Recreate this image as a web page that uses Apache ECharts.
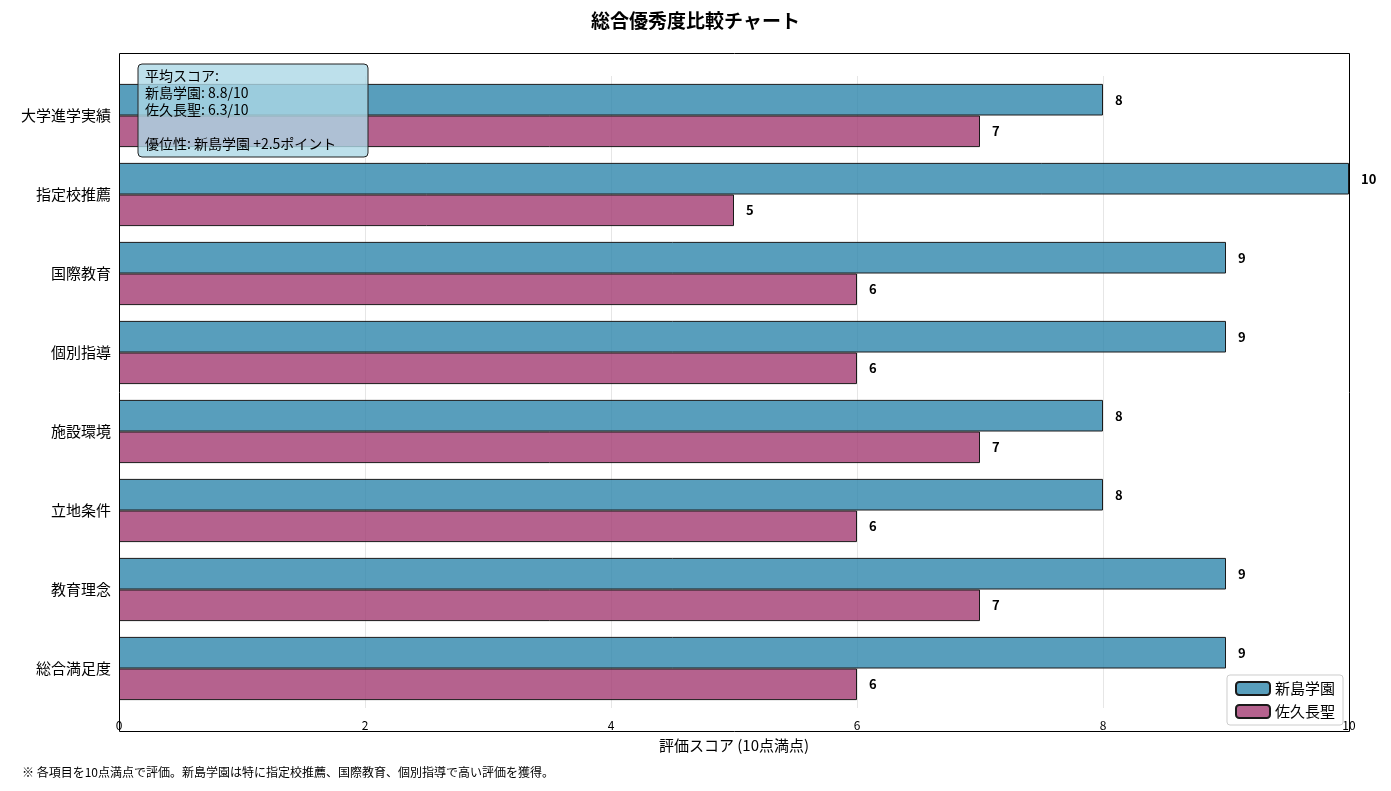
<!DOCTYPE html>
<html>
<head>
<meta charset="utf-8">
<title>総合優秀度比較チャート</title>
<script src="https://cdn.jsdelivr.net/npm/echarts@6/dist/echarts.min.js"></script>
<style>body{margin:0}#main{width:1391px;height:791px}</style>
</head>
<body>
<div id="main"></div>
<script>
var categories = ['大学進学実績', '指定校推薦', '国際教育', '個別指導', '施設環境', '立地条件', '教育理念', '総合満足度'];
var niijima = [8, 10, 9, 9, 8, 8, 9, 9];
var saku = [7, 5, 6, 6, 7, 6, 7, 6];
var xTicks = [0, 2, 4, 6, 8, 10];

var font = '"Noto Sans CJK JP", "DejaVu Sans", sans-serif';
var myChart = echarts.init(document.getElementById('main'));

function avg(a) { return a.reduce(function (s, v) { return s + v; }, 0) / a.length; }
var a1 = avg(niijima), a2 = avg(saku);

var option = {
    animation: false,
    textStyle: { fontFamily: font },
    title: {
        text: '総合優秀度比較チャート', left: 'center', top: 6,
        textStyle: { fontSize: 19, fontWeight: 'bold', color: '#000', fontFamily: font }
    },
    legend: {
        right: 48, bottom: 66, orient: 'vertical',
        itemWidth: 34, itemHeight: 13, itemGap: 8,
        padding: [6, 8], borderColor: '#ccc', borderWidth: 1, borderRadius: 3,
        backgroundColor: 'rgba(255,255,255,0.85)',
        textStyle: { fontSize: 15, color: '#000' },
        data: ['新島学園', '佐久長聖']
    },
    grid: { left: 119, right: 42, top: 76, height: 632 },
    xAxis: {
        type: 'value', min: 0, max: 10, interval: 2,
        name: '評価スコア (10点満点)', nameLocation: 'middle', nameGap: 30,
        nameTextStyle: { fontSize: 15, color: '#000' },
        axisLine: { show: false }, axisTick: { show: false },
        axisLabel: { color: '#000', fontSize: 12, margin: 34 - 23 },
        splitLine: { lineStyle: { color: '#e6e6e6' } }
    },
    yAxis: {
        type: 'category', data: categories, inverse: true,
        axisLine: { show: false },
        axisTick: { show: false },
        axisLabel: { color: '#000', fontSize: 15, margin: 8 }
    },
    series: [
        {
            name: '新島学園', type: 'bar', data: niijima, barWidth: '40%', barGap: '0%',
            itemStyle: { color: 'rgba(46,134,171,0.8)', borderColor: '#1a1a1a', borderWidth: 1 },
            label: { show: true, position: 'right', distance: 12, fontWeight: 'bold', fontSize: 13, color: '#000' }
        },
        {
            name: '佐久長聖', type: 'bar', data: saku, barWidth: '40%', barGap: '0%',
            itemStyle: { color: 'rgba(162,59,114,0.8)', borderColor: '#1a1a1a', borderWidth: 1 },
            label: { show: true, position: 'right', distance: 12, fontWeight: 'bold', fontSize: 13, color: '#000' }
        }
    ],
    graphic: [
        { type: 'rect', shape: { x: 119.5, y: 53.5, width: 1230, height: 678 }, z: 100,
          style: { fill: 'none', stroke: '#000', lineWidth: 1 } },
        { type: 'rect', shape: { x: 138, y: 64, width: 230, height: 93, r: 4 }, z: 101,
          style: { fill: 'rgba(173,216,230,0.8)', stroke: '#222', lineWidth: 1 } },
        { type: 'text', left: 145, top: 67, z: 102,
          style: { text: '平均スコア:\n新島学園: ' + a1.toFixed(1) + '/10\n佐久長聖: ' + a2.toFixed(1) + '/10\n\n優位性: 新島学園 +' + (a1 - a2).toFixed(1) + 'ポイント',
                   font: '14px ' + font, lineHeight: 17, fill: '#000' } },
        { type: 'text', left: 22, top: 766,
          style: { text: '※ 各項目を10点満点で評価。新島学園は特に指定校推薦、国際教育、個別指導で高い評価を獲得。',
                   font: '12px ' + font, fill: '#000' } }
    ]
};
myChart.setOption(option);
</script>
</body>
</html>
